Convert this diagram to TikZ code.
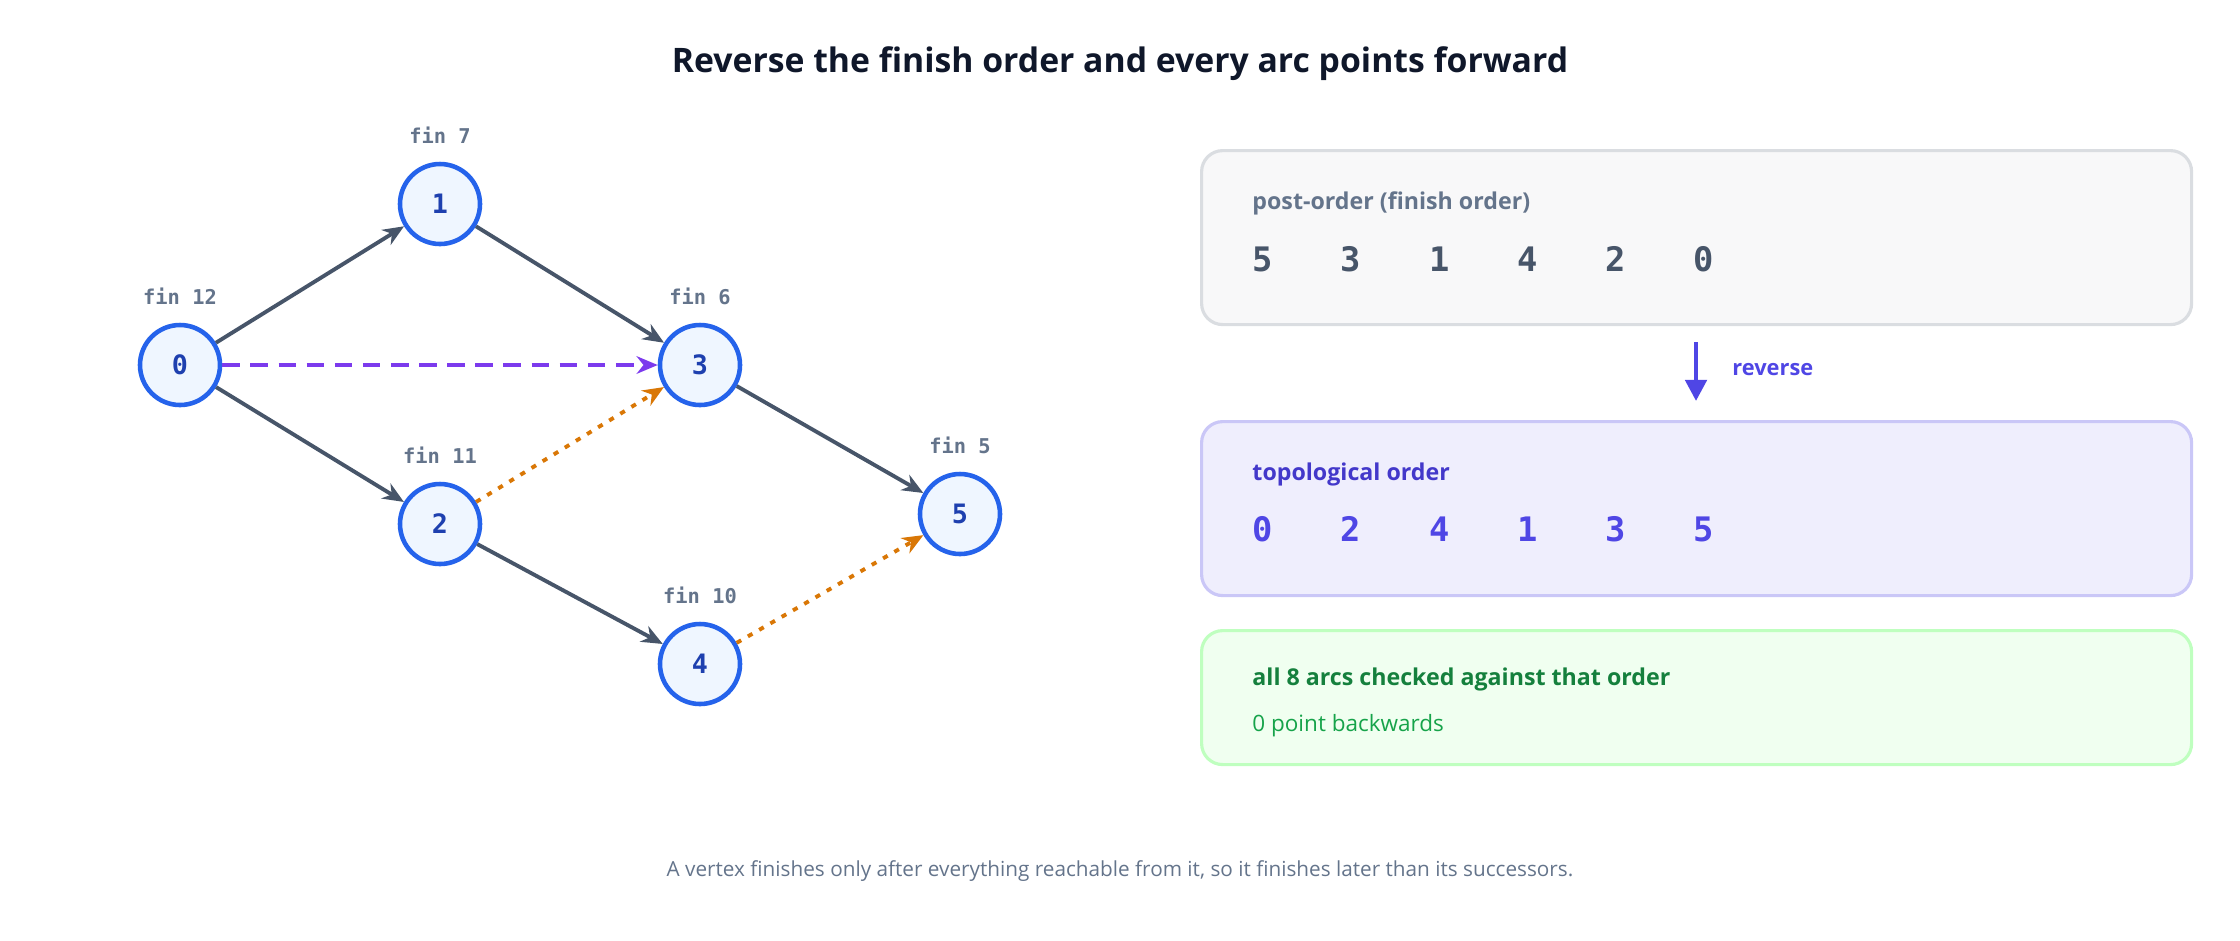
\documentclass[tikz,border=0pt]{standalone}
\usepackage{fontspec}
\setmainfont{Open Sans}
\setmonofont{DejaVu Sans Mono}
\usetikzlibrary{arrows.meta,positioning}
\definecolor{ink}{HTML}{0F172A}
\definecolor{slate}{HTML}{475569}
\definecolor{muted}{HTML}{64748B}
\definecolor{nodeblue}{HTML}{2563EB}
\definecolor{nodefill}{HTML}{EFF6FF}
\definecolor{nodetext}{HTML}{1E40AF}
\definecolor{purp}{HTML}{7C3AED}
\definecolor{amber}{HTML}{D97706}
\definecolor{indigo}{HTML}{4F46E5}
\definecolor{indigodark}{HTML}{4338CA}
\definecolor{grn}{HTML}{15803D}
\definecolor{grnlight}{HTML}{16A34A}
\tikzset{
  vertex/.style={circle,draw=nodeblue,fill=nodefill,line width=1.3pt,minimum size=0.8cm,
    inner sep=0pt,text=nodetext,font=\fontsize{7.6}{8}\selectfont\ttfamily\bfseries},
  fin/.style={above=0.06cm,text=muted,font=\fontsize{5.8}{6}\selectfont\ttfamily\bfseries},
  arc/.style={draw=slate,line width=1.1pt,-{Stealth[length=6pt,width=5pt]}},
  back/.style={draw=purp,line width=1.1pt,dash pattern=on 5pt off 3pt,-{Stealth[length=6pt,width=5pt]}},
  cross/.style={draw=amber,line width=1.1pt,dash pattern=on 1.5pt off 2.2pt,-{Stealth[length=6pt,width=5pt]}},
  panel/.style={rounded corners=6pt,line width=0.9pt,anchor=north west,minimum width=9.9cm},
  head/.style={anchor=west,font=\fontsize{6.6}{7}\selectfont\bfseries},
  digits/.style={anchor=west,font=\fontsize{9.6}{10}\selectfont\ttfamily\bfseries}
}
\begin{document}
\begin{tikzpicture}
  \useasboundingbox (0,0) rectangle (22.4,-9.4);
  % title and footer
  \node (title) at (11.2,-0.64) {\color{ink}\fontsize{9.6}{11}\selectfont\bfseries Reverse the finish order and every arc points forward};
  \node (foot) at (11.2,-8.71) {\color{muted}\fontsize{5.9}{7}\selectfont A vertex finishes only after everything reachable from it, so it finishes later than its successors.};
  % graph
  \node[vertex] (v0) at (1.80,-3.65) {0};
  \node[vertex] (v1) at (4.40,-2.04) {1};
  \node[vertex] (v2) at (4.40,-5.24) {2};
  \node[vertex] (v3) at (7.00,-3.65) {3};
  \node[vertex] (v4) at (7.00,-6.64) {4};
  \node[vertex] (v5) at (9.60,-5.14) {5};
  \node[fin] (f0) at (v0.north) {fin 12};
  \node[fin] (f1) at (v1.north) {fin 7};
  \node[fin] (f2) at (v2.north) {fin 11};
  \node[fin] (f3) at (v3.north) {fin 6};
  \node[fin] (f4) at (v4.north) {fin 10};
  \node[fin] (f5) at (v5.north) {fin 5};
  \draw[arc] (v0) -- (v1);
  \draw[arc] (v1) -- (v3);
  \draw[arc] (v0) -- (v2);
  \draw[arc] (v2) -- (v4);
  \draw[arc] (v3) -- (v5);
  \draw[back] (v0) -- (v3);
  \draw[cross] (v2) -- (v3);
  \draw[cross] (v4) -- (v5);
  % panels
  \node[panel,draw=slate!20,fill=slate!4,minimum height=1.74cm] (post) at (12.0,-1.49) {};
  \node[head,text=muted] (postlbl) at (12.40,-2.03) {post-order (finish order)};
  \node[digits,text=slate] (postseq) at (12.40,-2.59) {5\hspace{0.68cm}3\hspace{0.68cm}1\hspace{0.68cm}4\hspace{0.68cm}2\hspace{0.68cm}0};
  \node[panel,draw=indigo!30,fill=indigo!9,minimum height=1.74cm] (topo) at (12.0,-4.20) {};
  \node[head,text=indigodark] (topolbl) at (12.40,-4.74) {topological order};
  \node[digits,text=indigo] (toposeq) at (12.40,-5.29) {0\hspace{0.68cm}2\hspace{0.68cm}4\hspace{0.68cm}1\hspace{0.68cm}3\hspace{0.68cm}5};
  \node[panel,draw=green!25,fill=green!6,minimum height=1.34cm] (check) at (12.0,-6.29) {};
  \node[head,text=grn] (checklbl) at (12.40,-6.79) {all 8 arcs checked against that order};
  \node[anchor=west,text=grnlight,font=\fontsize{6.4}{7}\selectfont] (checksub) at (12.40,-7.26) {0 point backwards};
  \draw[draw=indigo,line width=1.3pt,-{Triangle[length=6pt,width=6pt]}] (post.south -| 16.96,0) ++(0,-0.16) coordinate (rtop) -- ([yshift=0.19cm]topo.north -| rtop);
  \node[anchor=west,text=indigo,font=\fontsize{6.2}{7}\selectfont\bfseries] (rev) at (17.2,-3.70) {reverse};
\end{tikzpicture}
\end{document}
